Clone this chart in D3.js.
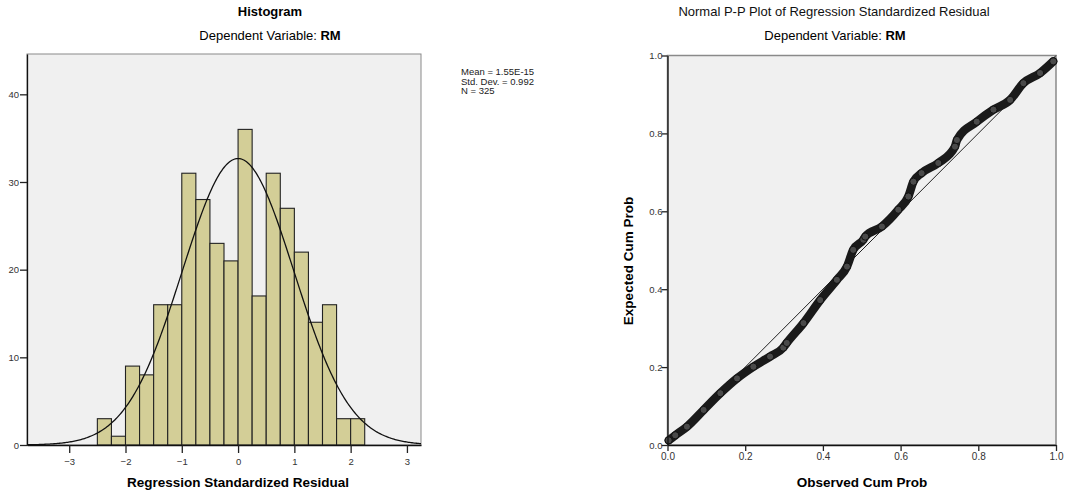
<!DOCTYPE html>
<html>
<head>
<meta charset="utf-8">
<script src="https://cdn.jsdelivr.net/npm/d3@7"></script>
<style>
  body { margin: 0; background: #fff; }
  text { font-family: "Liberation Sans", Arial, sans-serif; }
</style>
</head>
<body>
<script>
// histogram bins (lower edge) and counts
var binStart = [-2.5, -2.25, -2, -1.75, -1.5, -1.25, -1, -0.75, -0.5, -0.25, 0, 0.25, 0.5, 0.75, 1, 1.25, 1.5, 1.75, 2];
var binCount = [3, 1, 9, 8, 16, 16, 31, 28, 23, 21, 36, 17, 31, 27, 22, 14, 16, 3, 3];
var binWidth = 0.25;
var stats = ["Mean = 1.55E-15", "Std. Dev. = 0.992", "N = 325"];
var statMean = 0, statSd = 0.992, statN = 325;
var histXTicks = [-3, -2, -1, 0, 1, 2, 3];
var histYTicks = [0, 10, 20, 30, 40];

// P-P plot points
var ppObserved = [0.003, 0.02, 0.05, 0.093, 0.136, 0.179, 0.221, 0.264, 0.298, 0.307, 0.35, 0.393, 0.436, 0.462, 0.478, 0.504, 0.509, 0.552, 0.594, 0.62, 0.633, 0.654, 0.697, 0.74, 0.745, 0.796, 0.839, 0.882, 0.916, 0.959, 0.993];
var ppExpected = [0.012, 0.025, 0.047, 0.09, 0.133, 0.171, 0.201, 0.227, 0.25, 0.262, 0.313, 0.372, 0.424, 0.458, 0.501, 0.527, 0.535, 0.561, 0.604, 0.638, 0.676, 0.698, 0.724, 0.766, 0.783, 0.83, 0.861, 0.886, 0.929, 0.955, 0.985];
var ppTicks = [0, 0.2, 0.4, 0.6, 0.8, 1.0];

var width = 1070, height = 498;

var svg = d3.select("body").append("svg")
    .attr("width", width)
    .attr("height", height);

// ---------- histogram ----------
var xH = d3.scaleLinear().domain([-3.75, 3.25]).range([27, 421]);
var yH = d3.scaleLinear().domain([0, 44.6]).range([445, 54]);

svg.append("rect")
    .attr("x", xH.range()[0]).attr("y", yH.range()[1])
    .attr("width", xH.range()[1] - xH.range()[0])
    .attr("height", yH.range()[0] - yH.range()[1])
    .attr("fill", "#f0f0f0")
    .attr("stroke", "#8a8a8a");

svg.append("g").selectAll("rect")
    .data(binStart)
    .enter().append("rect")
    .attr("x", function(d) { return xH(d); })
    .attr("y", function(d, i) { return yH(binCount[i]); })
    .attr("width", function(d) { return xH(d + binWidth) - xH(d); })
    .attr("height", function(d, i) { return yH(0) - yH(binCount[i]); })
    .attr("fill", "#d3ce97")
    .attr("stroke", "#222")
    .attr("stroke-width", 1.1);

// fitted normal curve from the stats shown in the legend
var curveX = d3.range(-3.75, 3.2501, 0.02);
var curve = d3.line()
    .x(function(d) { return xH(d); })
    .y(function(d) {
      var z = (d - statMean) / statSd;
      return yH(statN * binWidth / (statSd * Math.sqrt(2 * Math.PI)) * Math.exp(-0.5 * z * z));
    });
svg.append("path")
    .datum(curveX)
    .attr("d", curve)
    .attr("fill", "none")
    .attr("stroke", "#111")
    .attr("stroke-width", 1.3);

var gxH = svg.append("g")
    .attr("transform", "translate(0," + yH(0) + ")")
    .call(d3.axisBottom(xH).tickValues(histXTicks).tickSize(8).tickSizeOuter(0).tickFormat(d3.format("d")));
var gyH = svg.append("g")
    .attr("transform", "translate(" + xH.range()[0] + ",0)")
    .call(d3.axisLeft(yH).tickValues(histYTicks).tickSize(7).tickSizeOuter(0));

svg.append("g").selectAll("text")
    .data(stats)
    .enter().append("text")
    .attr("x", 461)
    .attr("y", function(d, i) { return 75 + i * 9.5; })
    .attr("font-size", 9.5)
    .attr("fill", "#222")
    .text(function(d) { return d; });

svg.append("text")
    .attr("x", 270).attr("y", 16)
    .attr("text-anchor", "middle")
    .attr("font-size", 13).attr("font-weight", "bold")
    .text("Histogram");

var sub1 = svg.append("text")
    .attr("x", 270).attr("y", 40)
    .attr("text-anchor", "middle")
    .attr("font-size", 13);
sub1.append("tspan").text("Dependent Variable: ");
sub1.append("tspan").attr("font-weight", "bold").text("RM");

svg.append("text")
    .attr("x", 238).attr("y", 487)
    .attr("text-anchor", "middle")
    .attr("font-size", 13.5).attr("font-weight", "bold")
    .text("Regression Standardized Residual");

// ---------- P-P plot ----------
var xP = d3.scaleLinear().domain([0, 1]).range([667.5, 1056]);
var yP = d3.scaleLinear().domain([0, 1]).range([445, 55.5]);

svg.append("rect")
    .attr("x", xP(0)).attr("y", yP(1))
    .attr("width", xP(1) - xP(0))
    .attr("height", yP(0) - yP(1))
    .attr("fill", "#f0f0f0")
    .attr("stroke", "#8a8a8a")
    .attr("stroke-width", 1.5);

svg.append("line")
    .attr("x1", xP(0)).attr("y1", yP(0))
    .attr("x2", xP(1)).attr("y2", yP(1))
    .attr("stroke", "#222")
    .attr("stroke-width", 1);

var ppLine = d3.line()
    .x(function(d) { return xP(d); })
    .y(function(d, i) { return yP(ppExpected[i]); })
    .curve(d3.curveMonotoneX);
svg.append("path")
    .datum(ppObserved)
    .attr("d", ppLine)
    .attr("fill", "none")
    .attr("stroke", "#1a1a1a")
    .attr("stroke-width", 8.5)
    .attr("stroke-linecap", "round")
    .attr("stroke-linejoin", "round");

svg.append("g").selectAll("circle")
    .data(ppObserved)
    .enter().append("circle")
    .attr("cx", function(d) { return xP(d); })
    .attr("cy", function(d, i) { return yP(ppExpected[i]); })
    .attr("r", 3.6)
    .attr("fill", "#4a4a4a")
    .attr("stroke", "#111")
    .attr("stroke-width", 1);

var gxP = svg.append("g")
    .attr("transform", "translate(0," + yP(0) + ")")
    .call(d3.axisBottom(xP).tickValues(ppTicks).tickSize(6).tickSizeOuter(0).tickFormat(d3.format(".1f")));
var gyP = svg.append("g")
    .attr("transform", "translate(" + xP(0) + ",0)")
    .call(d3.axisLeft(yP).tickValues(ppTicks).tickSize(6).tickSizeOuter(0).tickFormat(d3.format(".1f")));

svg.append("text")
    .attr("x", 834).attr("y", 16)
    .attr("text-anchor", "middle")
    .attr("font-size", 13)
    .attr("fill", "#111")
    .text("Normal P-P Plot of Regression Standardized Residual");

var sub2 = svg.append("text")
    .attr("x", 835).attr("y", 40)
    .attr("text-anchor", "middle")
    .attr("font-size", 13);
sub2.append("tspan").text("Dependent Variable: ");
sub2.append("tspan").attr("font-weight", "bold").text("RM");

svg.append("text")
    .attr("x", 862).attr("y", 487)
    .attr("text-anchor", "middle")
    .attr("font-size", 13.5).attr("font-weight", "bold")
    .text("Observed Cum Prob");

svg.append("text")
    .attr("transform", "translate(633,261) rotate(-90)")
    .attr("text-anchor", "middle")
    .attr("font-size", 13.5).attr("font-weight", "bold")
    .text("Expected Cum Prob");

// axis styling
[gxH, gyH, gxP, gyP].forEach(function(g) {
  g.select(".domain").attr("stroke", "#111").attr("stroke-width", 1.3);
  g.selectAll(".tick line").attr("stroke", "#222").attr("stroke-width", 1.3);
  g.selectAll(".tick text")
    .attr("font-family", "'Liberation Sans', Arial, sans-serif")
    .attr("font-size", 9.5)
    .attr("fill", "#333");
});
gxH.selectAll(".tick text").attr("dy", "0.9em");
gyH.selectAll(".tick text").attr("x", -8);
gxP.selectAll(".tick text").attr("y", 8).attr("font-size", 10);
gyP.selectAll(".tick text").attr("x", -5);
</script>
</body>
</html>
